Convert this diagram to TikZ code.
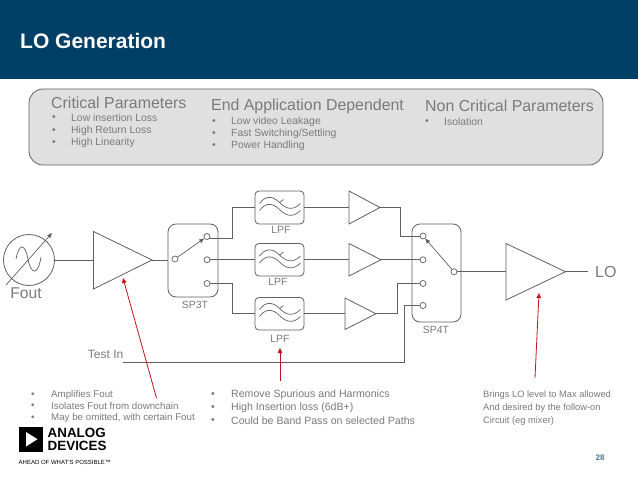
\documentclass[tikz,border=0pt]{standalone}
\usepackage{fontspec}
\setmainfont{Liberation Sans}
\usetikzlibrary{arrows.meta}
\definecolor{hdr}{HTML}{003F66}
\definecolor{ln}{HTML}{606060}
\definecolor{txt}{HTML}{7A7A7A}
\definecolor{arrowred}{HTML}{C0141E}
\tikzset{
  wire/.style={draw=ln,line width=0.8pt},
  amp/.style={draw=ln,line width=0.8pt},
  swbox/.style={draw=ln,line width=0.8pt,rounded corners=8pt},
  filt/.style={draw=ln,line width=0.8pt,rounded corners=4pt},
  port/.style={circle,draw=ln,line width=0.7pt,fill=white,minimum size=6pt,inner sep=0pt},
  note/.style={anchor=west,text=txt,inner sep=0pt,font=\fontsize{10.4}{12}\selectfont},
  head/.style={anchor=west,text=txt,inner sep=0pt,font=\fontsize{15.9}{18}\selectfont},
  lab/.style={text=txt,inner sep=0pt,font=\fontsize{10.4}{12}\selectfont},
  big/.style={text=txt,inner sep=0pt,font=\fontsize{15.6}{18}\selectfont},
  noteA/.style={note,font=\fontsize{9.75}{11}\selectfont},
  noteB/.style={note,font=\fontsize{10.6}{12}\selectfont},
  noteC/.style={note,font=\fontsize{9.3}{11}\selectfont},
  callout/.style={draw=arrowred,line width=0.8pt,-{Triangle[length=5pt,width=4.5pt]}},
  swarm/.style={draw=ln,line width=0.7pt,-{Triangle[length=5pt,width=4pt]}},
}
\newcommand{\filtericon}[2]{%
  \begin{scope}[shift={(#1,#2)}]
    \draw[ln,line width=0.7pt] (-20,-4) .. controls (-14,-12) and (-7,-12) .. (0,-5) .. controls (6,1) and (13,4) .. (21,-4);
    \draw[ln,line width=0.7pt] (-20,3) .. controls (-14,-5) and (-7,-5) .. (0,2) .. controls (6,8) and (13,11) .. (21,3);
    \draw[ln,line width=0.7pt] (0,-5) -- (4,-8);
  \end{scope}}
\begin{document}
\begin{tikzpicture}[x=1pt,y=-1pt]
\useasboundingbox (0,0) rectangle (638,479);
\fill[white] (0,0) rectangle (638,479);
\fill[hdr] (0,0) rectangle (638,79);
\node[anchor=west,text=white,inner sep=0pt,font=\fontsize{21}{23}\bfseries\selectfont] (title) at (20,41) {LO Generation};
\draw[draw=ln,fill=black!12,line width=0.8pt,rounded corners=14pt] (29,89) rectangle (603,165);
\node[head] (h1) at (51,103) {Critical Parameters};
\node[head] (h2) at (211,106) {End Application Dependent};
\node[head] (h3) at (425,106) {Non Critical Parameters};
\foreach \y/\t in {118/Low insertion Loss,131/High Return Loss,143/High Linearity}{
  \node[note] at (52,\y) {•}; \node[note] at (71,\y) {\t};}
\foreach \y/\t in {122/Low video Leakage,134/{Fast Switching/Settling},146/Power Handling}{
  \node[note] at (212,\y) {•}; \node[note] at (231,\y) {\t};}
\node[note] at (425,122) {•}; \node[note] at (444,122) {Isolation};

% oscillator
\node[circle,draw=ln,line width=0.8pt,minimum size=51pt,inner sep=0pt] (osc) at (29,260) {};
\draw[ln,line width=0.7pt] (16,259) .. controls (19,243) and (25,243) .. (28,259) .. controls (31,275) and (38,276) .. (41,257);
\coordinate (oa) at (6,285); \coordinate (ob) at (52,233);
\draw[swarm] (oa) -- (ob);
\node[big] (fout) at (26,293) {Fout};
% amps
\coordinate (a1a) at (93.5,260); \coordinate (a1b) at (152,260);
\draw[amp] (93.5,231.5) -- (93.5,289) -- (152,260) -- cycle;
\draw[wire] (osc.east) -- (a1a);
% SP3T
\draw[swbox] (168,224) rectangle (218,297);
\node[lab] (sp3) at (195,305) {SP3T};
\node[port] (s0) at (175,259) {};
\node[port] (s1) at (207,236.5) {};
\node[port] (s2) at (207,259.75) {};
\node[port] (s3) at (207,283.5) {};
\draw[swarm] (s0) -- (s1);
\draw[wire] (a1b) -- (168,260);
% LPF
\foreach \n/\yt/\yb in {f1/191/224,f2/243.5/276,f3/297.5/330}{
  \draw[filt] (255,\yt) rectangle (304,\yb);
  \coordinate (\n l) at (255,{(\yt+\yb)/2});
  \coordinate (\n r) at (304,{(\yt+\yb)/2});
}
\filtericon{279.5}{207.5}\filtericon{279.5}{260}\filtericon{279.5}{313.5}
\node[lab] (l1) at (281,230) {LPF};
\node[lab] (l2) at (278,281.5) {LPF};
\node[lab] (l3) at (280,338.5) {LPF};
\draw[wire] (s1.south east) -| (232,207.5) -- (f1l);
\draw[wire] (s2.east) -- (f2l);
\draw[wire] (s3.east) -| (232,313.75) -- (f3l);
% small amps
\draw[amp] (349,191) -- (349,224) -- (380,207.5) -- cycle;
\draw[amp] (349,243.5) -- (349,276) -- (381,259.75) -- cycle;
\draw[amp] (345,298) -- (345,329.5) -- (376,313.75) -- cycle;
\draw[wire] (f1r) -- (349,207.5);
\draw[wire] (f2r) -- (349,259.75);
\draw[wire] (f3r) -- (345,313.75);
% SP4T
\draw[swbox] (412,224) rectangle (461,322);
\node[lab] (sp4) at (436,329.5) {SP4T};
\node[port] (t1) at (423,236) {};
\node[port] (t2) at (423,259.75) {};
\node[port] (t3) at (423,283.5) {};
\node[port] (t4) at (423,305.5) {};
\node[port] (t0) at (454,271.75) {};
\draw[swarm] (t0) -- (t1);
\draw[wire] (380,207.5) -- (400,207.5) |- (t1.west);
\draw[wire] (381,259.75) -- (t2.west);
\draw[wire] (376,313.75) -- (397,313.75) |- (t3.west);
\coordinate (ti) at (123,362);
\draw[wire] (ti) -- (404,362) |- (t4.west);
\node[lab,anchor=east,font=\fontsize{12}{14}\selectfont] (testin) at (123.5,354.5) {Test In};
% output amp
\draw[amp] (506,243.5) -- (506,300) -- (565.5,271.75) -- cycle;
\draw[wire] (t0.east) -- (506,271.75);
\coordinate (loend) at (588,271.75);
\draw[wire] (565.5,271.75) -- (loend);
\node[big,anchor=west,font=\fontsize{16}{18}\selectfont] (lo) at (595,271.5) {LO};
% callouts
\coordinate (c1) at (156.5,398); \coordinate (c1t) at (123,278);
\coordinate (c2) at (280,381); \coordinate (c2t) at (280,348);
\coordinate (c3) at (535,378); \coordinate (c3t) at (539,293);
\draw[callout] (c1) -- (c1t);
\draw[callout] (c2) -- (c2t);
\draw[callout] (c3) -- (c3t);
% bottom notes
\foreach \y/\t in {395/Amplifies Fout,406/Isolates Fout from downchain,418/{May be omitted, with certain Fout}}{
  \node[noteA] at (31,\y) {•};
  \node[noteA] at (51,\y) {\t};}
\foreach \y/\t in {395/Remove Spurious and Harmonics,408/High Insertion loss (6dB+),421/Could be Band Pass on selected Paths}{
  \node[noteB] at (211,\y) {•};
  \node[noteB] at (231,\y) {\t};}
\node[noteC] at (483,395) {Brings LO level to Max allowed};
\node[noteC] at (483,408) {And desired by the follow-on};
\node[noteC] at (483,421) {Circuit (eg mixer)};
% logo
\fill[black] (18.5,427) rectangle (43,451.5);
\fill[white] (26,432) -- (26,446.5) -- (37.5,439.2) -- cycle;
\node[anchor=west,inner sep=0pt,font=\fontsize{13.4}{15}\bfseries\selectfont] (an) at (47.5,433) {ANALOG};
\node[anchor=west,inner sep=0pt,font=\fontsize{13.4}{15}\bfseries\selectfont] (de) at (47.5,446) {DEVICES};
\node[anchor=west,inner sep=0pt,font=\fontsize{6}{7}\selectfont] (tag) at (18.5,462) {AHEAD OF WHAT'S POSSIBLE™};
\node[inner sep=0pt,text=hdr!70,font=\fontsize{8}{10}\bfseries\selectfont] (pg) at (600,458) {28};
\end{tikzpicture}
\end{document}
